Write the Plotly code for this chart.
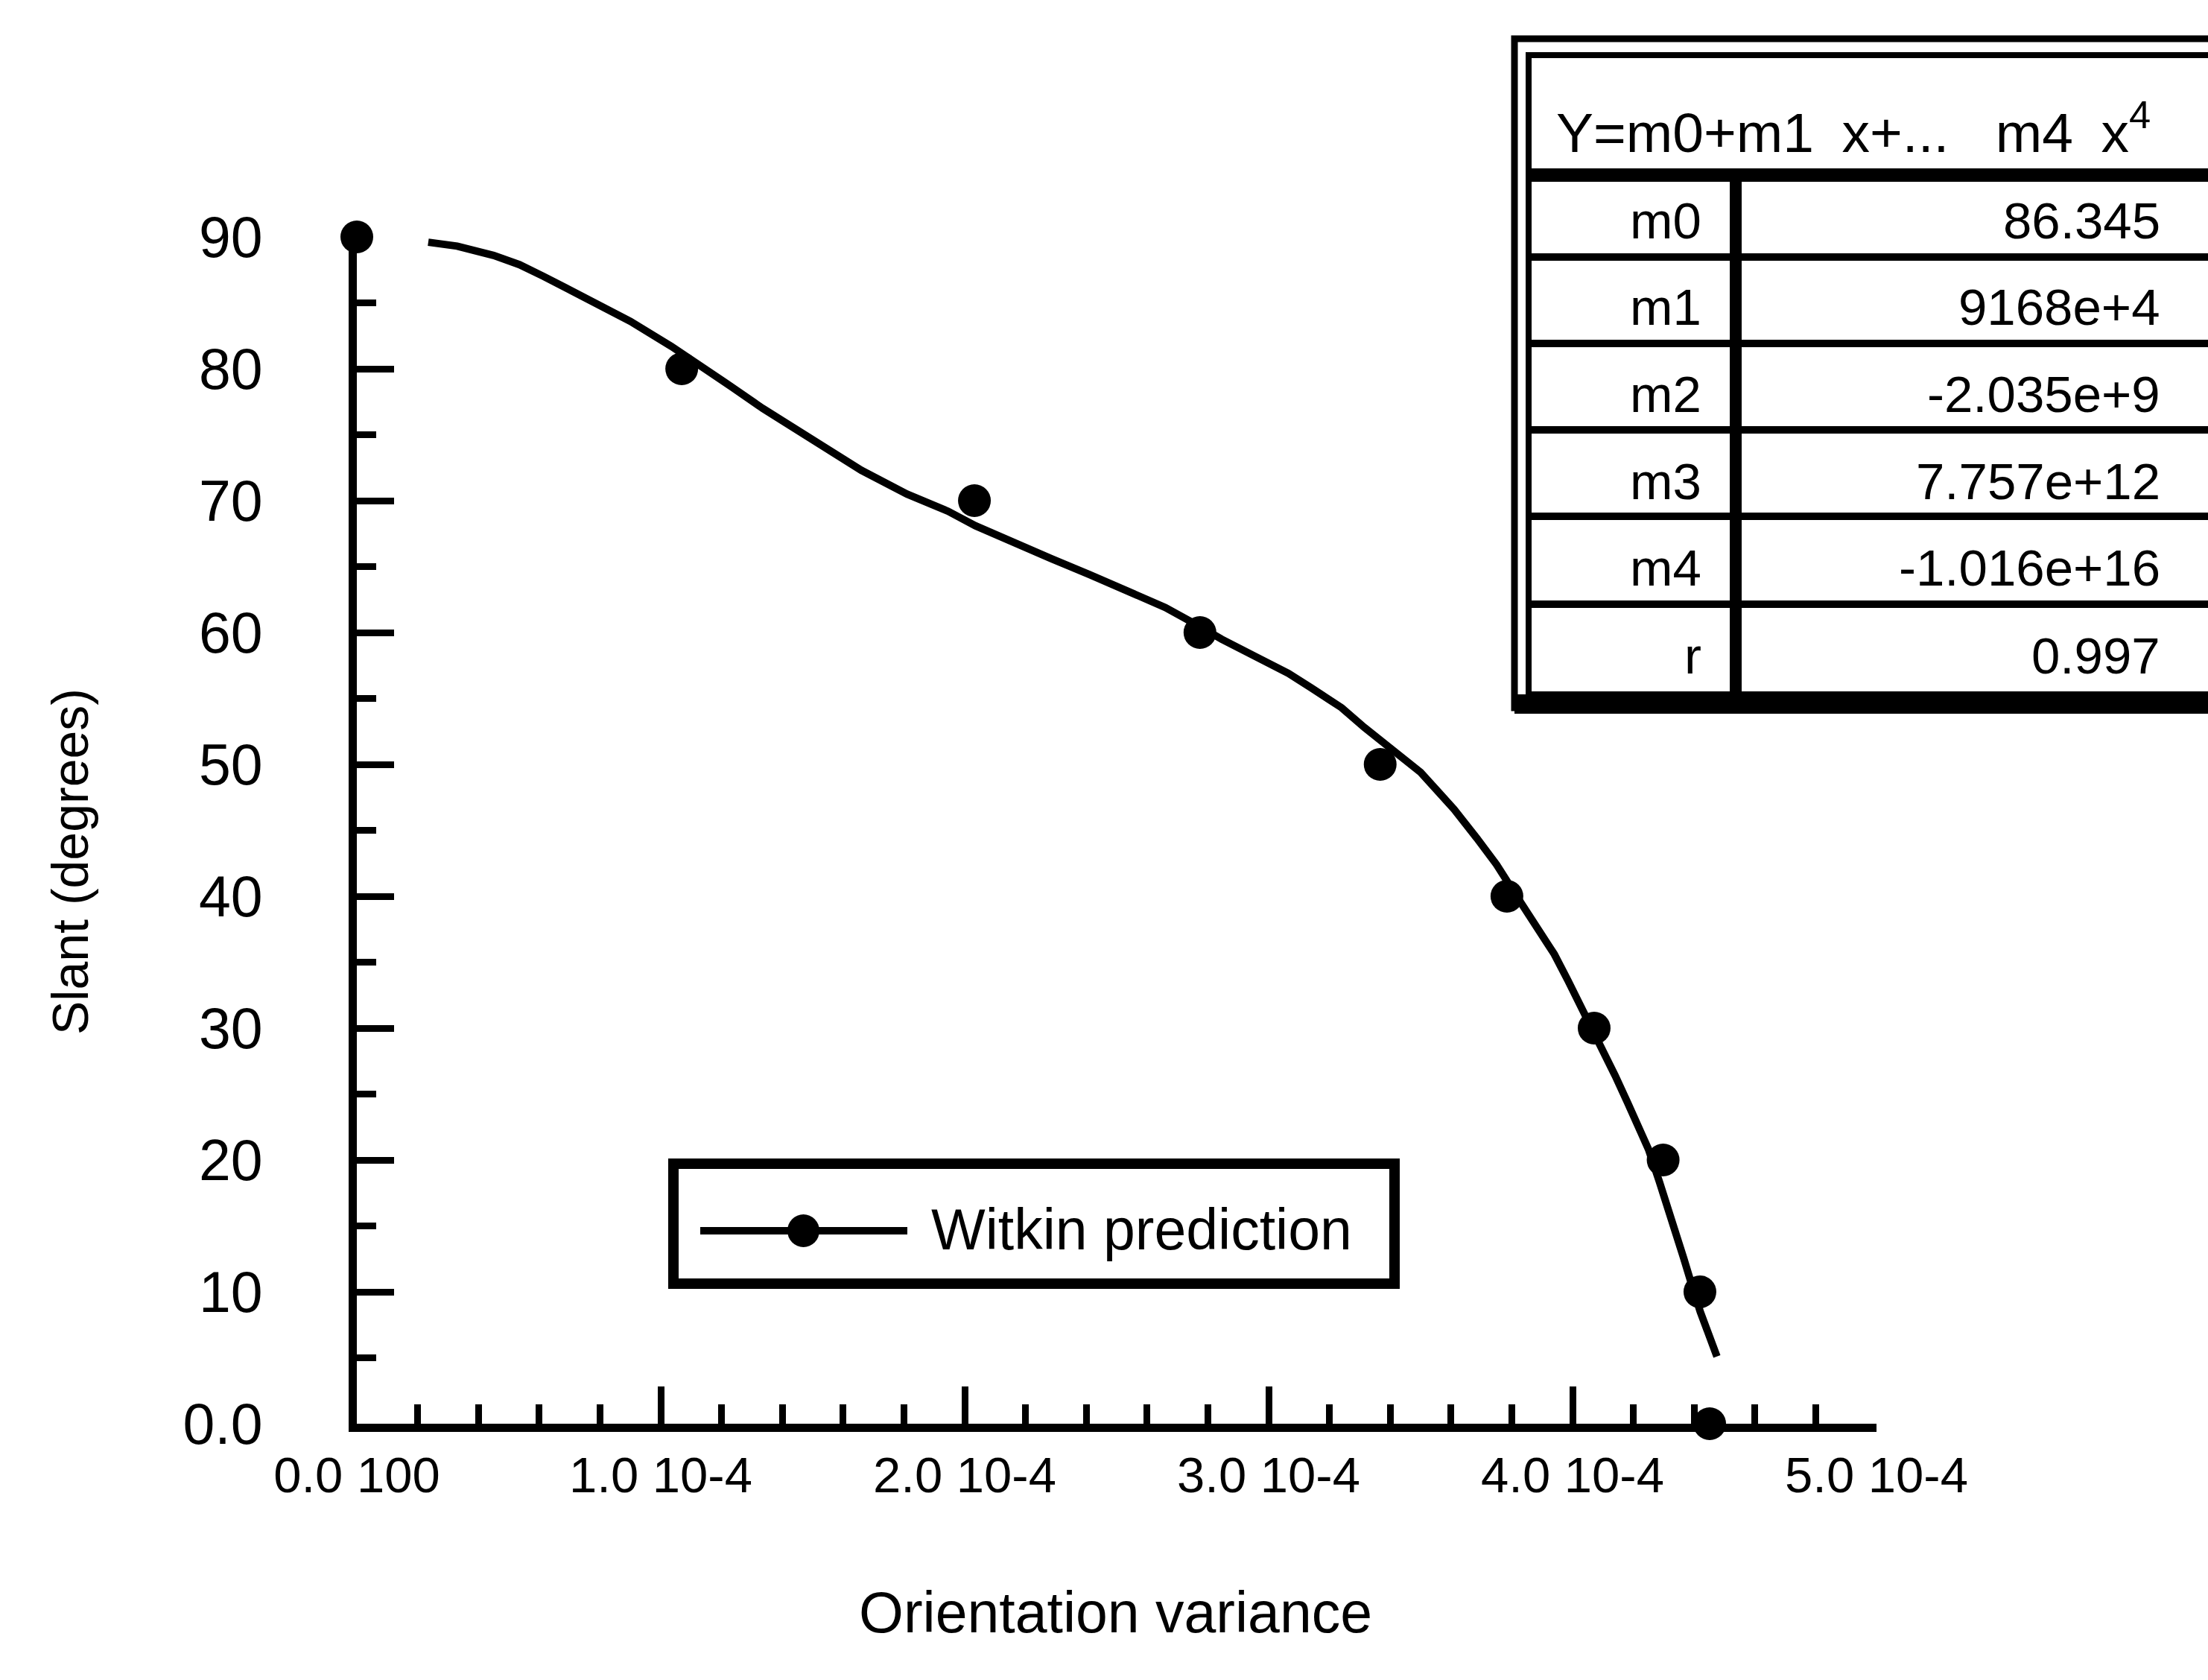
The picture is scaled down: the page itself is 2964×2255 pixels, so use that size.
import plotly.graph_objects as go

# ---- data -------------------------------------------------------------
# Witkin prediction: surface slant (deg) against orientation variance
slant_deg = [90, 80, 70, 60, 50, 40, 30, 20, 10, 0]
orientation_var = [0.0, 1.069e-4, 2.032e-4, 2.774e-4, 3.367e-4,
                   3.784e-4, 4.071e-4, 4.298e-4, 4.419e-4, 4.451e-4]

# 4th-order polynomial fit, sampled along its drawn path
fit_var = [0.235e-4, 0.330e-4, 0.450e-4, 0.535e-4, 0.615e-4, 0.680e-4,
           0.780e-4, 0.900e-4, 1.035e-4, 1.135e-4, 1.235e-4, 1.335e-4,
           1.435e-4, 1.525e-4, 1.660e-4, 1.810e-4, 1.945e-4, 2.035e-4,
           2.160e-4, 2.285e-4, 2.410e-4, 2.535e-4, 2.660e-4, 2.770e-4,
           2.845e-4, 2.955e-4, 3.065e-4, 3.140e-4, 3.240e-4, 3.315e-4,
           3.410e-4, 3.500e-4, 3.555e-4, 3.610e-4, 3.685e-4, 3.750e-4,
           3.805e-4, 3.885e-4, 3.940e-4, 3.985e-4, 4.040e-4, 4.090e-4,
           4.140e-4, 4.180e-4, 4.215e-4, 4.250e-4, 4.285e-4, 4.330e-4,
           4.365e-4, 4.390e-4, 4.420e-4, 4.475e-4]
fit_slant = [89.6, 89.3, 88.6, 87.9, 87.0, 86.2,
             85.1, 83.6, 81.7, 80.2, 78.6, 77.0,
             75.6, 74.2, 72.3, 70.5, 69.2, 68.1,
             66.8, 65.6, 64.4, 63.2, 61.9, 60.5,
             59.5, 58.2, 56.9, 55.8, 54.3, 52.8,
             51.0, 49.4, 48.0, 46.6, 44.4, 42.4,
             40.4, 37.6, 35.6, 33.6, 31.1, 28.9,
             26.4, 24.4, 22.6, 20.8, 18.4, 15.3,
             12.6, 10.7, 8.5, 5.1]

x_tick_vals = [0, 1e-4, 2e-4, 3e-4, 4e-4, 5e-4]
x_tick_text = ["0.0 100", "1.0 10-4", "2.0 10-4", "3.0 10-4", "4.0 10-4", "5.0 10-4"]
y_tick_vals = [0, 10, 20, 30, 40, 50, 60, 70, 80, 90]
y_tick_text = ["0.0", "10", "20", "30", "40", "50", "60", "70", "80", "90"]

fit_terms = ["m0", "m1", "m2", "m3", "m4", "r"]
fit_values = ["86.345", "9168e+4", "-2.035e+9", "7.757e+12", "-1.016e+16", "0.997"]
fit_header = ("Y=m0+m1\u2002x+...\u00a0\u00a0\u00a0m4"
              "\u2002x<sup>4</sup>")
series_name = "Witkin prediction"

# ---- page geometry (pixels) ----------------------------------------------
W, H = 2964, 2255
PL, PR, PT, PB = 479, 2519, 318, 1911   # plot-area edges
FONT = "Liberation Sans, Arial, Helvetica, sans-serif"


def px(x):
    return (x - PL) / (PR - PL)


def py(y):
    return (PB - y) / (PB - PT)


shapes = []
annotations = []


def hline(x0, x1, y, w):
    shapes.append(dict(type="line", xref="paper", yref="paper",
                       x0=px(x0), x1=px(x1), y0=py(y), y1=py(y),
                       line=dict(color="black", width=w)))


def box(x0, y0, x1, y1, w):
    shapes.append(dict(type="rect", xref="paper", yref="paper",
                       x0=px(x0), x1=px(x1), y0=py(y0), y1=py(y1),
                       line=dict(color="black", width=w), fillcolor="rgba(0,0,0,0)"))


def band(x0, y0, x1, y1):
    shapes.append(dict(type="rect", xref="paper", yref="paper",
                       x0=px(x0), x1=px(x1), y0=py(y0), y1=py(y1),
                       line=dict(width=0), fillcolor="black"))


def label(x, y, text, size, xanchor="center", angle=0):
    annotations.append(dict(xref="paper", yref="paper", x=px(x), y=py(y),
                            text=text, showarrow=False, xanchor=xanchor,
                            yanchor="middle", textangle=angle,
                            font=dict(family=FONT, size=size, color="black")))


# ---- coefficient table (runs off the right edge) ------------------------
TR = 3120
box(2033, 52, TR, 950, 9)
box(2052, 74, TR, 932, 8)
band(2033, 932, TR, 958)
band(2052, 226, TR, 244)
for yy in [345, 461, 577, 693, 811]:
    hline(2052, TR, yy, 10)
band(2322, 244, 2338, 932)

label(2488, 172, fit_header, 75)
row_y = [296, 413, 530, 646, 762, 880]
for term, val, yy in zip(fit_terms, fit_values, row_y):
    label(2286, yy, term, 69, xanchor="right")
    label(2902, yy, val, 69, xanchor="right")

# ---- legend box ---------------------------------------------------------
box(904, 1562, 1872, 1723, 14)
hline(940, 1218, 1652, 10)
shapes.append(dict(type="circle", xref="paper", yref="paper",
                   x0=px(1057), x1=px(1100), y0=py(1630), y1=py(1674),
                   line=dict(width=0), fillcolor="black"))
label(1248, 1650, series_name, 77, xanchor="left")

# ---- axis titles -------------------------------------------------------------
label(94, 1157, "Slant (degrees)", 68, angle=-90)
label(1497, 2164, "Orientation variance", 77)

# ---- traces -------------------------------------------------------------
fig = go.Figure()
fig.add_trace(go.Scatter(
    x=fit_var, y=fit_slant, mode="lines",
    line=dict(color="black", width=10),
    cliponaxis=False, showlegend=False, hoverinfo="skip"))
fig.add_trace(go.Scatter(
    x=orientation_var, y=slant_deg, mode="markers", name=series_name,
    marker=dict(color="black", size=44, line=dict(width=0)),
    cliponaxis=False, showlegend=False))

fig.update_layout(
    width=W, height=H, autosize=False,
    margin=dict(l=PL, r=W - PR, t=PT, b=H - PB, pad=0),
    paper_bgcolor="white", plot_bgcolor="white",
    showlegend=False,
    shapes=shapes, annotations=annotations,
    font=dict(family=FONT, color="black"),
    xaxis=dict(
        range=[0, 5e-4], showgrid=False, zeroline=False,
        showline=True, linecolor="black", linewidth=11,
        ticks="inside", ticklen=50, tickwidth=9, tickcolor="black",
        tickvals=x_tick_vals, ticktext=x_tick_text,
        tickfont=dict(family=FONT, size=67, color="black"),
        ticklabelstandoff=1,
        minor=dict(ticks="inside", ticklen=26, tickwidth=9,
                   tickcolor="black", dtick=2e-5, showgrid=False),
    ),
    yaxis=dict(
        range=[0, 90], showgrid=False, zeroline=False,
        showline=True, linecolor="black", linewidth=11,
        ticks="inside", ticklen=50, tickwidth=9, tickcolor="black",
        tickvals=y_tick_vals, ticktext=y_tick_text,
        tickfont=dict(family=FONT, size=77, color="black"),
        ticklabelstandoff=100,
        minor=dict(ticks="inside", ticklen=26, tickwidth=9,
                   tickcolor="black", dtick=5, showgrid=False),
    ),
)

fig.write_html("out.html")
